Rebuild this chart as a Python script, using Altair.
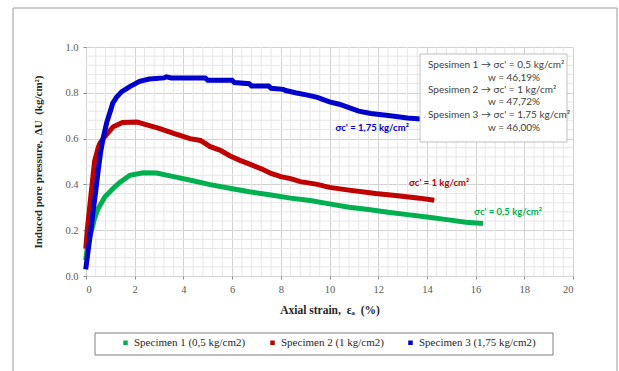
import altair as alt
import pandas as pd

# Axial strain (%) and induced pore pressure (kg/cm2) for each specimen
strain_1 = [0, 0.05, 0.12, 0.23, 0.35, 0.5, 0.78, 1.12, 1.4, 1.8, 2.35, 2.9, 3.6, 4.3,
            5.1, 5.9, 6.7, 7.6, 8.4, 9.2, 10.0, 10.8, 11.6, 12.4, 13.2, 14.0, 14.9, 15.6, 16.2]
du_1 = [0.08, 0.12, 0.16, 0.20, 0.25, 0.295, 0.346, 0.383, 0.41, 0.44, 0.451, 0.45, 0.434, 0.418,
        0.399, 0.383, 0.368, 0.354, 0.34, 0.33, 0.315, 0.30, 0.29, 0.278, 0.268, 0.258, 0.245, 0.235, 0.23]

strain_2 = [0, 0.05, 0.15, 0.25, 0.35, 0.5, 0.57, 0.78, 1.12, 1.5, 2.1, 2.5, 3.0, 3.6, 4.27,
            4.7, 5.1, 5.5, 5.9, 6.3, 6.8, 7.2, 7.6, 8.0, 8.4, 8.8, 9.5, 10.0, 10.8, 11.9, 12.8, 13.7, 14.2]
du_2 = [0.13, 0.2, 0.3, 0.4, 0.5, 0.56, 0.58, 0.61, 0.652, 0.67, 0.672, 0.66, 0.645, 0.623, 0.60,
        0.592, 0.565, 0.55, 0.525, 0.506, 0.485, 0.468, 0.448, 0.434, 0.425, 0.412, 0.40, 0.387, 0.375,
        0.36, 0.35, 0.34, 0.332]

strain_3 = [0, 0.1, 0.2, 0.3, 0.4, 0.5, 0.6, 0.7, 0.85, 1.0, 1.1, 1.25, 1.47, 1.8, 2.2, 2.6, 3.2,
            3.3, 3.5, 4.9, 5.0, 6.0, 6.1, 6.7, 6.8, 7.5, 7.6, 8.1, 8.2, 8.6, 9.1, 9.5, 10.0, 10.4,
            10.8, 11.2, 11.7, 12.5, 13.2, 13.8]
du_3 = [0.04, 0.12, 0.2, 0.29, 0.37, 0.46, 0.54, 0.6, 0.67, 0.72, 0.755, 0.78, 0.805, 0.827, 0.85,
        0.86, 0.865, 0.87, 0.865, 0.865, 0.855, 0.855, 0.845, 0.84, 0.83, 0.83, 0.82, 0.815, 0.81,
        0.80, 0.79, 0.78, 0.76, 0.75, 0.735, 0.72, 0.71, 0.70, 0.69, 0.685]

series_names = ["Specimen 1 (0,5 kg/cm2)", "Specimen 2 (1 kg/cm2)", "Specimen 3 (1,75 kg/cm2)"]
series_colors = ["#00B050", "#C00000", "#0000CC"]

x_ticks = [0, 2, 4, 6, 8, 10, 12, 14, 16, 18, 20]
y_ticks = [0.0, 0.2, 0.4, 0.6, 0.8, 1.0]

frames = []
for name, xs, ys in zip(series_names, [strain_1, strain_2, strain_3], [du_1, du_2, du_3]):
    frames.append(pd.DataFrame({"strain": xs, "du": ys, "series": name, "order": range(len(xs))}))
df = pd.concat(frames, ignore_index=True)

# minor gridlines between the labelled ones
minor_x = [round(i * 0.4, 2) for i in range(1, 50) if i % 5 != 0]
minor_y = [round(i * 0.04, 2) for i in range(1, 25) if i % 5 != 0]

W, H = 487, 229
SERIF = "Liberation Serif"
SANS = "Lato"
NB = "\u00a0"

x_scale = alt.Scale(domain=[0, 20], nice=False, zero=False)
y_scale = alt.Scale(domain=[0, 1], nice=False, zero=False)

x_axis = alt.Axis(values=x_ticks, format="d", title=f"Axial strain,{NB}{NB}εₐ{NB}{NB}(%)",
                  grid=True, gridColor="#d2d2d2", domain=False,
                  tickSize=3, tickColor="#8c8c8c", labelPadding=5,
                  labelFont=SERIF, labelFontSize=10.5, labelColor="#595959",
                  titleFont=SERIF, titleFontSize=11.5, titleFontWeight="bold",
                  titleColor="#262626", titlePadding=10)
y_axis = alt.Axis(values=y_ticks, format=".1f",
                  title=f"Induced pore pressure,{NB}{NB}ΔU{NB}{NB}(kg/cm²)",
                  grid=True, gridColor="#d2d2d2", domain=False,
                  tickSize=3, tickColor="#8c8c8c", labelPadding=5,
                  labelFont=SERIF, labelFontSize=10.5, labelColor="#595959",
                  titleFont=SERIF, titleFontSize=11, titleFontWeight="bold",
                  titleColor="#262626", titlePadding=21)

outer = alt.Chart(pd.DataFrame({"a": [0]})).mark_rect(
    fill=None, stroke="#9a9a9a", strokeWidth=1
).encode(x=alt.value(-73), x2=alt.value(531), y=alt.value(-39), y2=alt.value(400))

grid_x = alt.Chart(pd.DataFrame({"v": minor_x})).mark_rule(color="#e6e6e6", strokeWidth=1).encode(
    x=alt.X("v:Q", scale=x_scale, axis=x_axis)
)
grid_y = alt.Chart(pd.DataFrame({"v": minor_y})).mark_rule(color="#e6e6e6", strokeWidth=1).encode(
    y=alt.Y("v:Q", scale=y_scale, axis=y_axis)
)

lines = alt.Chart(df).mark_line(strokeWidth=5, strokeJoin="miter", strokeCap="square").encode(
    x=alt.X("strain:Q", scale=x_scale, axis=x_axis),
    y=alt.Y("du:Q", scale=y_scale, axis=y_axis),
    color=alt.Color("series:N",
                    scale=alt.Scale(domain=series_names, range=series_colors),
                    legend=alt.Legend(orient="none", legendX=34, legendY=290, direction="horizontal",
                                      title=None, symbolType="square", symbolSize=4,
                                      symbolStrokeWidth=2.5, labelFont=SERIF, labelFontSize=11,
                                      labelColor="#262626", columnPadding=20, labelOffset=3)),
    order="order:Q",
)

legend_box = alt.Chart(pd.DataFrame({"a": [0]})).mark_rect(
    fill=None, stroke="#7f7f7f", strokeWidth=1
).encode(x=alt.value(9), x2=alt.value(467), y=alt.value(286), y2=alt.value(308))

# curve labels
label_x = [17.33, 14.5, 11.75]
label_y = [0.28, 0.406, 0.646]
label_txt = ["σc' = 0,5 kg/cm²", "σc' = 1 kg/cm²", "σc' = 1,75 kg/cm²"]
curve_labels = alt.Chart(pd.DataFrame({"x": label_x, "y": label_y, "t": label_txt, "series": series_names})).mark_text(
    font=SANS, fontSize=9.5, fontWeight="bold"
).encode(
    x=alt.X("x:Q", scale=x_scale, axis=x_axis), y=alt.Y("y:Q", scale=y_scale, axis=y_axis), text="t:N",
    color=alt.Color("series:N", scale=alt.Scale(domain=series_names, range=series_colors), legend=None),
)

# text box with test conditions
box = alt.Chart(pd.DataFrame({"a": [0]})).mark_rect(
    fill="white", stroke="#bfbfbf", strokeWidth=1
).encode(x=alt.value(334), x2=alt.value(481), y=alt.value(7), y2=alt.value(95))

box_lines = [
    ("Spesimen 1 → σc' = 0,5 kg/cm²", 342, 18),
    ("w = 46,19%", 402, 31),
    ("Spesimen 2 → σc' = 1 kg/cm²", 342, 43),
    ("w = 47,72%", 402, 55),
    ("Spesimen 3 → σc' = 1,75 kg/cm²", 342, 68),
    ("w = 46,00%", 402, 81),
]
box_texts = [
    alt.Chart(pd.DataFrame({"a": [0]})).mark_text(
        text=t, align="left", baseline="middle", font=SANS, fontSize=10, color="#404040"
    ).encode(x=alt.value(px), y=alt.value(py))
    for t, px, py in box_lines
]

chart = alt.layer(
    outer, grid_x, grid_y, lines, curve_labels, legend_box, box, *box_texts
).properties(
    width=W, height=H,
    padding={"left": 86, "top": 47, "right": 46, "bottom": 95},
    autosize="none",
).configure_view(stroke="#8c8c8c", strokeWidth=1).configure(background="white")

chart.save("out.html", embed_options={"renderer": "svg", "actions": False})
